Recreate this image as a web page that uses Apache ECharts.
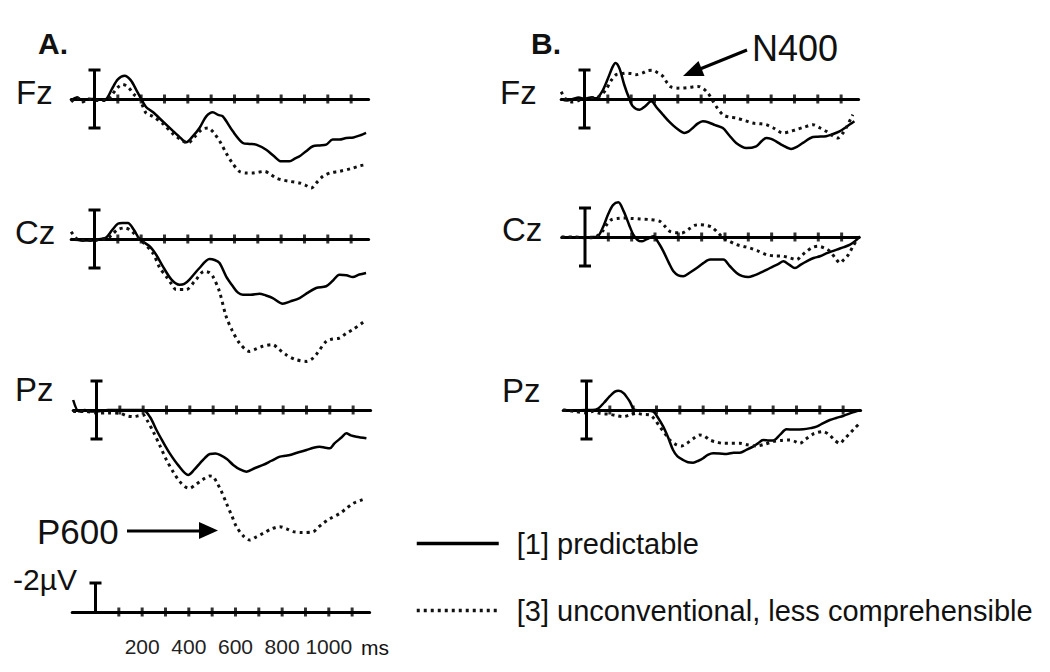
<!DOCTYPE html>
<html>
<head>
<meta charset="utf-8">
<script src="https://cdn.jsdelivr.net/npm/echarts@6/dist/echarts.min.js"></script>
<style>
html,body{margin:0;padding:0;background:#fff;}
#chart{width:1050px;height:672px;}
</style>
</head>
<body>
<div id="chart"></div>
<script>
// ---- data: [time in ms, amplitude in µV] (negative plotted upward) ----
const aFzPredictable = [[-100,0.1],[-75,-0.1],[-50,0.1],[-25,0],[0,0],[25,0.05],[50,0],[75,-0.7],[100,-1.35],[129,-1.6],[155,-1.3],[180,-0.6],[200,0],[221,0.55],[250,0.9],[293,1.55],[336,2.2],[370,2.7],[393,2.99],[420,2.6],[450,2.0],[479,1.2],[507,0.92],[530,1.1],[550,1.2],[593,2.23],[636,3.03],[665,3.1],[693,3.15],[736,3.5],[770,3.95],[800,4.3],[836,4.3],[860,4.1],[879,3.95],[907,3.6],[936,3.26],[965,3.2],[993,3.15],[1021,2.8],[1050,2.8],[1079,2.69],[1110,2.65],[1140,2.5],[1164,2.34]];
const aFzUnconventional = [[-100,0.2],[-75,-0.1],[-50,0.2],[-25,0],[0,0.1],[25,0.1],[50,0.1],[75,-0.3],[100,-0.8],[121,-1.0],[145,-0.8],[170,-0.3],[193,0],[221,0.97],[250,1.2],[293,1.7],[336,2.4],[370,2.8],[400,3.03],[430,2.6],[460,2.1],[486,2.0],[510,2.3],[540,3.0],[564,3.72],[590,4.4],[621,4.99],[650,5.1],[679,5.1],[700,5.05],[729,4.99],[755,5.2],[779,5.45],[810,5.6],[836,5.68],[879,5.79],[905,5.95],[929,6.14],[950,5.8],[979,5.33],[1010,5.1],[1050,4.99],[1100,4.8],[1140,4.6],[1164,4.53]];
const aCzPredictable = [[-100,0],[-50,0.1],[0,0.1],[25,0],[50,-0.1],[75,-0.6],[100,-1.05],[120,-1.1],[143,-1.1],[170,-0.6],[193,0],[236,0.5],[265,1.1],[293,1.89],[330,2.8],[364,3.15],[385,3.1],[407,2.8],[450,2.0],[493,1.38],[515,1.45],[536,1.66],[564,2.57],[593,3.26],[615,3.7],[636,3.84],[670,3.84],[707,3.77],[735,3.9],[764,4.07],[807,4.46],[840,4.3],[879,4.07],[915,3.7],[950,3.38],[993,3.26],[1020,2.9],[1050,2.46],[1080,2.5],[1107,2.62],[1135,2.45],[1164,2.34]];
const aCzUnconventional = [[-100,-0.5],[-75,0],[-50,0.1],[0,0.1],[25,0],[50,0],[75,-0.3],[100,-0.65],[129,-0.76],[155,-0.6],[180,-0.2],[200,0.1],[250,0.97],[280,2.0],[307,2.57],[330,3.1],[350,3.49],[393,3.49],[430,2.9],[471,2.23],[490,2.3],[507,2.57],[535,3.6],[564,5.33],[590,6.3],[621,7.17],[664,7.75],[690,7.6],[721,7.4],[764,7.29],[790,7.6],[821,7.98],[860,8.3],[907,8.44],[930,8.3],[950,7.98],[993,7.06],[1020,6.9],[1050,6.83],[1080,6.5],[1107,6.25],[1157,5.68]];
const aPzPredictable = [[-100,-0.69],[-75,0.1],[-50,0],[-25,0.1],[0,0.1],[50,0],[100,0],[150,0],[200,0],[230,0.5],[257,1.38],[285,2.2],[314,2.99],[350,3.8],[393,4.48],[420,4.1],[443,3.68],[465,3.3],[486,3.03],[510,3.0],[529,3.1],[560,3.4],[586,3.79],[615,4.1],[643,4.25],[680,4.0],[714,3.79],[750,3.5],[786,3.22],[810,3.15],[829,3.1],[860,2.95],[900,2.76],[930,2.6],[957,2.53],[980,2.6],[1000,2.64],[1020,2.3],[1050,1.9],[1071,1.61],[1090,1.75],[1114,1.84],[1157,1.95]];
const aPzUnconventional = [[-100,0.1],[-50,0.1],[0,0.2],[50,0.2],[100,0.23],[130,0.4],[157,0.46],[180,0.4],[200,0.34],[220,0.8],[243,1.49],[270,2.4],[300,3.45],[330,4.3],[357,4.94],[380,5.3],[400,5.4],[420,5.2],[443,4.94],[465,4.7],[486,4.55],[500,4.6],[514,4.94],[535,5.6],[557,6.44],[580,7.3],[600,8.05],[630,8.7],[657,8.97],[685,8.75],[714,8.51],[750,8.2],[786,8.05],[815,8.2],[843,8.39],[880,8.45],[929,8.39],[950,8.1],[971,7.82],[1000,7.5],[1043,7.13],[1070,6.8],[1100,6.44],[1130,6.25],[1157,6.09]];
const bFzPredictable = [[-100,0],[-75,0.1],[-50,0],[-25,-0.1],[0,0],[25,-0.1],[50,-0.05],[75,-0.5],[100,-1.4],[120,-2.2],[133,-2.48],[150,-2.1],[170,-1.0],[190,-0.1],[207,0.5],[236,0.74],[260,0.5],[286,0.16],[310,0.6],[336,1.08],[365,1.6],[393,2.0],[429,2.34],[445,2.25],[464,2.0],[485,1.7],[507,1.54],[530,1.6],[560,1.8],[593,2.0],[620,2.5],[650,3.03],[693,3.38],[736,3.26],[760,2.9],[779,2.69],[800,2.75],[821,2.92],[850,3.2],[886,3.45],[910,3.3],[936,3.03],[979,2.62],[1000,2.6],[1036,2.57],[1060,2.45],[1093,2.23],[1120,1.95],[1157,1.54]];
const bFzUnconventional = [[-100,-0.5],[-75,0.1],[-50,0.2],[-25,0.1],[0,0],[25,-0.1],[50,-0.1],[64,-0.18],[90,-0.6],[115,-1.3],[136,-1.68],[160,-1.75],[179,-1.79],[200,-1.75],[221,-1.68],[250,-1.8],[270,-1.95],[293,-1.98],[315,-1.8],[336,-1.56],[355,-1.1],[371,-0.83],[400,-0.75],[421,-0.76],[450,-0.8],[486,-0.87],[510,-0.7],[529,-0.41],[545,0],[564,0.5],[593,1.08],[620,1.25],[650,1.31],[690,1.5],[721,1.66],[750,1.7],[779,1.77],[810,2.0],[850,2.34],[880,2.25],[907,2.11],[940,1.95],[979,1.77],[1010,2.0],[1036,2.23],[1060,2.5],[1086,2.69],[1105,2.4],[1121,2.0],[1150,1.08]];
const bCzPredictable = [[-100,0],[-50,0.05],[0,0.05],[25,0],[50,0],[75,-0.6],[100,-1.6],[120,-2.2],[143,-2.39],[165,-1.8],[190,-0.8],[207,-0.16],[225,0.2],[243,0.3],[265,0.15],[293,-0.05],[315,0.4],[336,0.99],[360,1.8],[379,2.37],[400,2.65],[421,2.71],[450,2.45],[479,2.14],[507,1.8],[536,1.56],[565,1.56],[593,1.56],[620,2.0],[650,2.48],[675,2.7],[700,2.76],[725,2.65],[750,2.48],[780,2.25],[807,2.02],[830,1.85],[850,1.68],[875,1.9],[900,2.14],[925,1.9],[950,1.68],[980,1.45],[1007,1.33],[1040,1.1],[1079,0.87],[1110,0.7],[1136,0.53],[1160,0.25],[1179,-0.05]];
const bCzUnconventional = [[-100,0],[-50,0],[0,0.05],[25,0.05],[50,-0.05],[75,-0.4],[95,-0.9],[114,-1.2],[140,-1.28],[164,-1.31],[200,-1.28],[236,-1.24],[280,-1.2],[321,-1.08],[345,-0.7],[364,-0.39],[390,-0.3],[414,-0.28],[450,-0.6],[470,-0.8],[493,-0.85],[520,-0.8],[543,-0.69],[570,-0.3],[593,0.07],[620,0.3],[650,0.53],[680,0.65],[707,0.76],[740,0.95],[779,1.22],[810,1.3],[850,1.33],[880,1.45],[907,1.56],[930,1.25],[950,0.99],[975,0.72],[1000,0.64],[1025,0.75],[1050,0.99],[1075,1.5],[1093,1.79],[1110,1.55],[1129,1.22],[1150,0.6],[1171,0.07]];
const bPzPredictable = [[-100,0],[-50,0.05],[0,0],[25,0],[50,-0.1],[75,-0.5],[100,-0.95],[120,-1.25],[138,-1.33],[160,-1.15],[185,-0.6],[207,0],[250,0.05],[286,0.11],[305,0.5],[329,1.15],[350,1.9],[371,2.76],[390,3.2],[414,3.45],[435,3.6],[457,3.63],[480,3.5],[500,3.33],[520,3.1],[543,2.99],[570,3.0],[600,3.03],[630,2.95],[657,2.94],[685,2.75],[714,2.53],[735,2.3],[757,2.07],[780,2.1],[800,2.11],[830,1.7],[857,1.33],[890,1.35],[929,1.33],[960,1.25],[986,1.15],[1015,0.9],[1043,0.69],[1070,0.55],[1100,0.41],[1135,0.2],[1171,0]];
const bPzUnconventional = [[-100,0],[-50,0.1],[0,0.2],[25,0.1],[57,0.23],[100,0.3],[130,0.4],[157,0.46],[185,0.35],[214,0.23],[240,0.3],[271,0.34],[290,0.6],[314,1.15],[335,1.6],[357,2.07],[380,2.35],[407,2.48],[430,2.3],[460,1.95],[486,1.72],[505,1.8],[529,2.07],[555,2.2],[586,2.3],[620,2.3],[657,2.3],[690,2.4],[729,2.48],[765,2.35],[800,2.18],[835,2.1],[871,2.07],[890,2.15],[914,2.3],[940,2.0],[971,1.66],[990,1.55],[1014,1.49],[1040,1.7],[1065,2.1],[1086,2.3],[1105,2.0],[1129,1.61],[1150,1.25],[1171,0.92]];

const tickTimes = [100,200,300,400,500,600,700,800,900,1000,1100];
const scaleLabels = [200,400,600,800,1000];
const calibrationBar = [[0,-2],[0,2]];   // ±2 µV
const scaleBar = [[0,0],[0,-2]];         // -2 µV
const seriesNames = ['[1] predictable','[3] unconventional, less comprehensible'];

// ---- layout ----
const PX_MS = 0.2333, PX_UV = 14.5;
const T_MIN = -100, T_MAX = 1175, V_MIN = -4;
const FONT = '"Liberation Sans", Arial, sans-serif';

const panels = [
  {x0:94.5, base:99,  vMax:10, solid:aFzPredictable, dotted:aFzUnconventional},
  {x0:94.5, base:239, vMax:10, solid:aCzPredictable, dotted:aCzUnconventional},
  {x0:96.5, base:410, vMax:10, solid:aPzPredictable, dotted:aPzUnconventional},
  {x0:584.5, base:99,  vMax:10, solid:bFzPredictable, dotted:bFzUnconventional},
  {x0:585,   base:237, vMax:10, solid:bCzPredictable, dotted:bCzUnconventional},
  {x0:586.5, base:410, vMax:10, solid:bPzPredictable, dotted:bPzUnconventional},
  {x0:95.5, base:612, vMax:0, scale:true}
];

const grids = [], xAxes = [], yAxes = [], series = [];
panels.forEach((p, i) => {
  grids.push({
    left: p.x0 - (0 - T_MIN) * PX_MS,
    top: p.base - (0 - V_MIN) * PX_UV,
    width: (T_MAX - T_MIN) * PX_MS,
    height: (p.vMax - V_MIN) * PX_UV,
    containLabel: false,
    outerBoundsMode: 'none'
  });
  xAxes.push({
    type: 'value', gridIndex: i, min: T_MIN, max: T_MAX,
    axisLine: {show: true, onZero: true, lineStyle: {color: '#000', width: 3}},
    axisTick: {show: false},
    splitLine: {show: false},
    axisLabel: p.scale ? {
      show: true, customValues: scaleLabels, margin: 24,
      fontSize: 21, fontFamily: FONT, color: '#222',
      formatter: v => String(v)
    } : {show: false}
  });
  yAxes.push({
    type: 'value', gridIndex: i, min: V_MIN, max: p.vMax, inverse: true,
    show: false, splitLine: {show: false}
  });
  if (!p.scale) {
    series.push({
      type: 'line', name: seriesNames[0], xAxisIndex: i, yAxisIndex: i,
      data: p.solid, symbol: 'none', smooth: 0.3, silent: true, z: 4,
      itemStyle: {color: '#000'},
      lineStyle: {color: '#000', width: 2.5, type: 'solid'}
    });
    series.push({
      type: 'line', name: seriesNames[1], xAxisIndex: i, yAxisIndex: i,
      data: p.dotted, symbol: 'none', smooth: 0.3, silent: true, z: 4,
      itemStyle: {color: '#000'},
      lineStyle: {color: '#111', width: 3, type: [3, 4]}
    });
  }
  series.push({
    type: 'scatter', xAxisIndex: i, yAxisIndex: i, silent: true, z: 5,
    data: tickTimes.map(t => [t, 0]),
    symbol: 'rect', symbolSize: [3, 9], itemStyle: {color: '#000'}
  });
  series.push({
    type: 'line', xAxisIndex: i, yAxisIndex: i, silent: true, z: 5,
    data: p.scale ? [{value: scaleBar[0], symbol: 'none'}, {value: scaleBar[1]}] : calibrationBar,
    symbol: 'rect', symbolSize: [12, 3], showSymbol: true,
    itemStyle: {color: '#000'},
    lineStyle: {color: '#000', width: 3}
  });
});

function txt(x, y, text, size, bold) {
  return {
    type: 'text', x: x, y: y, silent: true,
    style: {
      text: text, fill: '#111', align: 'left', verticalAlign: 'middle',
      font: (bold ? 'bold ' : '') + size + 'px ' + FONT
    }
  };
}

const graphic = [
  txt(38, 43, 'A.', 30, true),
  txt(531, 43, 'B.', 30, true),
  txt(16, 92, 'Fz', 33),
  txt(15, 232, 'Cz', 33),
  txt(15, 389, 'Pz', 33),
  txt(500, 92, 'Fz', 33),
  txt(502, 229, 'Cz', 33),
  txt(502, 390, 'Pz', 33),
  txt(752, 48, 'N400', 36),
  txt(37, 531, 'P600', 35),
  txt(13, 579, '-2µV', 30),
  txt(361, 647, 'ms', 21),
  {type: 'line', silent: true, shape: {x1: 747, y1: 50, x2: 700, y2: 69},
   style: {stroke: '#000', lineWidth: 3}},
  {type: 'polygon', silent: true, shape: {points: [[683, 76], [704.5, 76], [698.5, 61]]},
   style: {fill: '#000'}},
  {type: 'line', silent: true, shape: {x1: 127, y1: 531, x2: 201, y2: 531},
   style: {stroke: '#000', lineWidth: 3}},
  {type: 'polygon', silent: true, shape: {points: [[218, 530.5], [199, 522], [199, 539]]},
   style: {fill: '#000'}}
];

const chart = echarts.init(document.getElementById('chart'), null, {renderer: 'svg'});
chart.setOption({
  animation: false,
  backgroundColor: '#fff',
  grid: grids,
  xAxis: xAxes,
  yAxis: yAxes,
  legend: {
    data: seriesNames, orient: 'vertical', left: 415, top: 529, padding: 0,
    itemWidth: 82, itemHeight: 30, itemGap: 38, selectedMode: false,
    textStyle: {fontSize: 29, fontFamily: FONT, color: '#111', padding: [0, 0, 0, 13]},
    itemStyle: {opacity: 0},
    lineStyle: {width: 3.5}
  },
  series: series,
  graphic: graphic
});
</script>
</body>
</html>
